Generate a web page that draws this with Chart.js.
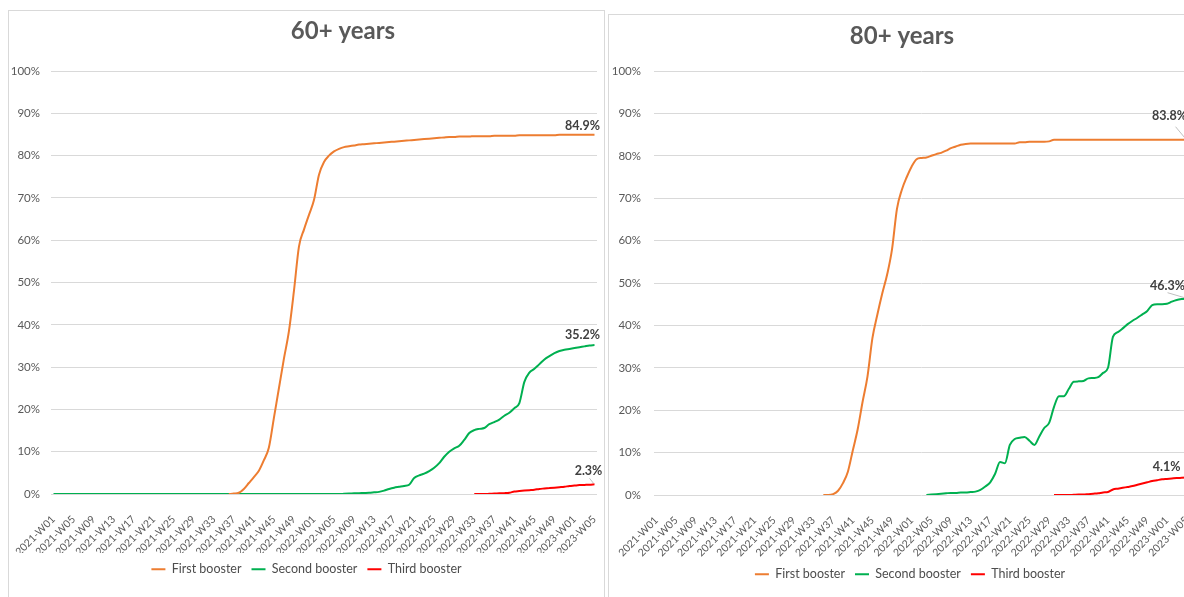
<!DOCTYPE html>
<html lang="en">
<head>
<meta charset="utf-8">
<title>Boosters 60+ / 80+</title>
<script src="https://cdn.jsdelivr.net/npm/chart.js@4.4.1/dist/chart.umd.min.js"></script>
<style>
    html, body { margin: 0; padding: 0; background: #fff; }
    body { width: 1184px; height: 597px; overflow: hidden; position: relative; }
    .panel { position: absolute; border: 1px solid #d9d9d9; background: #fff; }
    #panel60 { left: 8px; top: 10px; width: 595px; height: 600px; }
    #panel80 { left: 608px; top: 14px; width: 602px; height: 600px; }
    .panel canvas { display: block; }
</style>
</head>
<body>
<div class="panel" id="panel60"><canvas id="chart60" width="595" height="586"></canvas></div>
<div class="panel" id="panel80"><canvas id="chart80" width="602" height="582"></canvas></div>

<script>
// Semanas ISO: 2021-W01 ... 2023-W05
const anios = [2021, 2022, 2023];
const semanasPorAnio = [52, 52, 5];

const semanas = [];
anios.forEach((a, i) => {
    for (let w = 1; w <= semanasPorAnio[i]; w++) {
        semanas.push(a + "-W" + String(w).padStart(2, "0"));
    }
});

// 60+ years (% cobertura), cada serie empieza en la semana indicada
const first60Desde = "2021-W36";
const first60 = [
    0, 0.1, 0.3, 1.2, 2.6, 4, 5.5, 8, 11, 18,
    25, 32, 38.5, 48, 58.5, 62.5, 66, 69.5, 75.5, 78.5,
    80, 81, 81.6, 82, 82.2, 82.4, 82.6, 82.7, 82.8, 82.9,
    83.0, 83.1, 83.2, 83.3, 83.4, 83.5, 83.6, 83.7, 83.8, 83.9,
    84.0, 84.1, 84.2, 84.3, 84.4, 84.4, 84.5, 84.5, 84.5, 84.6,
    84.6, 84.6, 84.6, 84.7, 84.7, 84.7, 84.7, 84.7, 84.8, 84.8,
    84.8, 84.8, 84.8, 84.8, 84.8, 84.8, 84.9, 84.9, 84.9, 84.9,
    84.9, 84.9, 84.9, 84.9
];

const second60Desde = "2021-W01";
const second60 = [
    0, 0, 0, 0, 0, 0, 0, 0, 0, 0,
    0, 0, 0, 0, 0, 0, 0, 0, 0, 0,
    0, 0, 0, 0, 0, 0, 0, 0, 0, 0,
    0, 0, 0, 0, 0, 0, 0, 0, 0, 0,
    0, 0, 0, 0, 0, 0, 0, 0, 0, 0,
    0, 0, 0, 0, 0, 0, 0, 0,
    0.05, 0.1, 0.15, 0.2, 0.25, 0.3, 0.4, 0.5, 0.8, 1.2,
    1.5, 1.7, 1.9, 2.2, 3.8, 4.4, 4.8, 5.4, 6.2, 7.3,
    8.8, 10, 10.8, 11.4, 12.8, 14.4, 15.1, 15.4, 15.6, 16.5,
    17, 17.6, 18.5, 19.2, 20.3, 21.5, 26.5, 28.7, 29.6, 30.7,
    31.8, 32.6, 33.3, 33.8, 34.1, 34.3, 34.5, 34.7, 34.9, 35.1,
    35.2
];

const third60Desde = "2022-W33";
const third60 = [
    0, 0, 0, 0.05, 0.1, 0.15, 0.2, 0.3, 0.6, 0.7,
    0.8, 0.9, 1.0, 1.2, 1.3, 1.4, 1.5, 1.6, 1.7, 1.9,
    2.0, 2.1, 2.15, 2.2, 2.3
];

// 80+ years
const first80Desde = "2021-W35";
const first80 = [
    0, 0, 0.2, 1, 2.8, 5.5, 10.5, 15.5, 22, 28,
    37, 42.5, 47.5, 52, 58, 67.5, 72, 75, 77.5, 79.2,
    79.5, 79.6, 80, 80.4, 80.7, 81.2, 81.8, 82.2, 82.6, 82.8,
    82.9, 82.9, 82.9, 82.9, 82.9, 82.9, 82.9, 82.9, 82.9, 82.9,
    83.2, 83.2, 83.3, 83.3, 83.3, 83.3, 83.4,
    83.8, 83.8, 83.8, 83.8, 83.8, 83.8, 83.8, 83.8, 83.8, 83.8,
    83.8, 83.8, 83.8, 83.8, 83.8, 83.8, 83.8, 83.8, 83.8, 83.8,
    83.8, 83.8, 83.8, 83.8, 83.8, 83.8, 83.8, 83.8
];

const second80Desde = "2022-W04";
const second80 = [
    0, 0.1, 0.2, 0.3, 0.4, 0.5, 0.5, 0.6, 0.6, 0.7,
    0.8, 1.2, 2, 3, 5, 7.8, 7.5, 11.8, 13.2, 13.5,
    13.7, 12.8, 11.8, 13.8, 15.8, 17, 20.8, 23.3, 23.3, 25,
    26.7, 26.8, 26.9, 27.5, 27.6, 27.8, 28.8, 30, 37.3, 38.4,
    39.3, 40.3, 41.1, 41.8, 42.6, 43.4, 44.8, 45, 45, 45.1,
    45.6, 46, 46.2, 46.3
];

const third80Desde = "2022-W30";
const third80 = [
    0, 0, 0, 0, 0.05, 0.1, 0.1, 0.2, 0.3, 0.4,
    0.6, 0.7, 1.3, 1.5, 1.7, 1.9, 2.1, 2.4, 2.7, 3.0,
    3.3, 3.5, 3.7, 3.8, 3.9, 4.0, 4.05, 4.1
];

const nombres = ["First booster", "Second booster", "Third booster"];
const colores = ["#ED7D31", "#00B050", "#FF0000"];

const GRIS = "#595959";
const FUENTE = "Lato";

// coloca la serie en el eje de semanas (huecos antes del inicio)
function alinear(desde, valores) {
    const inicio = semanas.indexOf(desde);
    const fila = [];
    for (let i = 0; i < inicio; i++) fila.push(null);
    return fila.concat(valores);
}

// Título propio (en el original no está centrado en el lienzo)
const tituloLibre = {
    id: "tituloLibre",
    afterDraw(chart, args, opts) {
        const ctx = chart.ctx;
        ctx.save();
        ctx.fillStyle = GRIS;
        ctx.font = "bold 24px " + FUENTE;
        ctx.textAlign = "center";
        ctx.textBaseline = "middle";
        ctx.fillText(opts.texto, opts.x, opts.y);
        ctx.restore();
    }
};

// Etiqueta con el último valor de cada serie
const etiquetasFinales = {
    id: "etiquetasFinales",
    afterDatasetsDraw(chart, args, opts) {
        const ctx = chart.ctx;
        ctx.save();
        chart.data.datasets.forEach((ds, i) => {
            const meta = chart.getDatasetMeta(i);
            const p = meta.data[meta.data.length - 1];
            const valor = ds.data[ds.data.length - 1];
            const o = opts.pos[i];
            const tx = p.x + o.dx;
            const ty = p.y + o.dy;
            if (o.guia) {
                ctx.strokeStyle = "#bfbfbf";
                ctx.lineWidth = 1;
                ctx.beginPath();
                ctx.moveTo(p.x + o.guia[0], p.y + o.guia[1]);
                ctx.lineTo(p.x + o.guia[2], p.y + o.guia[3]);
                ctx.stroke();
            }
            ctx.fillStyle = "#404040";
            ctx.font = "bold 12.5px " + FUENTE;
            ctx.textAlign = "center";
            ctx.textBaseline = "middle";
            ctx.fillText(valor.toFixed(1) + "%", tx, ty);
        });
        ctx.restore();
    }
};

function crearGrafico(id, titulo, series, cfg) {
    new Chart(document.getElementById(id), {
        type: "line",
        data: {
            labels: semanas,
            datasets: series.map((s, i) => ({
                label: nombres[i],
                data: s,
                borderColor: colores[i],
                backgroundColor: colores[i],
                borderWidth: 2,
                pointRadius: 0,
                tension: 0.3,
                cubicInterpolationMode: "monotone",
                fill: false
            }))
        },
        options: {
            responsive: false,
            animation: false,
            layout: { padding: cfg.padding },
            plugins: {
                title: { display: false },
                legend: {
                    position: "bottom",
                    labels: {
                        usePointStyle: true,
                        pointStyle: "line",
                        pointStyleWidth: 14,
                        color: "#4d4d4d",
                        font: { family: FUENTE, size: 12.5 },
                        padding: 10
                    }
                },
                tooltip: { enabled: false },
                tituloLibre: { texto: titulo, x: cfg.tituloX, y: cfg.tituloY },
                etiquetasFinales: { pos: cfg.etiquetas }
            },
            scales: {
                x: {
                    offset: true,
                    grid: { display: false },
                    border: { display: false },
                    ticks: {
                        autoSkip: false,
                        maxRotation: 45,
                        minRotation: 45,
                        padding: 11,
                        color: GRIS,
                        font: { family: FUENTE, size: 10.5 },
                        callback: (v, i) => i % 4 === 0 ? semanas[i] : null
                    },
                    afterFit: s => {
                        s.height = cfg.altoX;
                        s.paddingLeft = 0;
                        s.paddingRight = cfg.margenDer;
                    }
                },
                y: {
                    min: 0,
                    max: 100,
                    grid: { color: "#d9d9d9", drawTicks: false },
                    border: { display: false },
                    ticks: {
                        stepSize: 10,
                        padding: cfg.padY,
                        color: GRIS,
                        font: { family: FUENTE, size: 11.5 },
                        callback: v => v + "%"
                    },
                    afterFit: s => { s.width = cfg.anchoY; }
                }
            }
        },
        plugins: [etiquetasFinales, tituloLibre]
    });
}

crearGrafico("chart60", "60+ years",
    [alinear(first60Desde, first60), alinear(second60Desde, second60), alinear(third60Desde, third60)],
    {
        padding: { top: 60, left: 0, right: 0, bottom: 11.5 },
        margenDer: 7,
        tituloX: 334,
        tituloY: 20,
        altoX: 59,
        anchoY: 42,
        padY: 11,
        etiquetas: [
            { dx: -12, dy: -9 },
            { dx: -12, dy: -10 },
            { dx: -6, dy: -13, guia: [-5, -6, -1, -1] }
        ]
    });

crearGrafico("chart80", "80+ years",
    [alinear(first80Desde, first80), alinear(second80Desde, second80), alinear(third80Desde, third80)],
    {
        padding: { top: 56, left: 0, right: 0, bottom: 6.5 },
        margenDer: 22,
        tituloX: 293,
        tituloY: 21,
        altoX: 63,
        anchoY: 45,
        padY: 13,
        etiquetas: [
            { dx: -17, dy: -24, guia: [-11, -13, -1, -1] },
            { dx: -19, dy: -13, guia: [-19, -6, -2, -1] },
            { dx: -20, dy: -11, guia: [-2, -9, -1, -4] }
        ]
    });
</script>
</body>
</html>
